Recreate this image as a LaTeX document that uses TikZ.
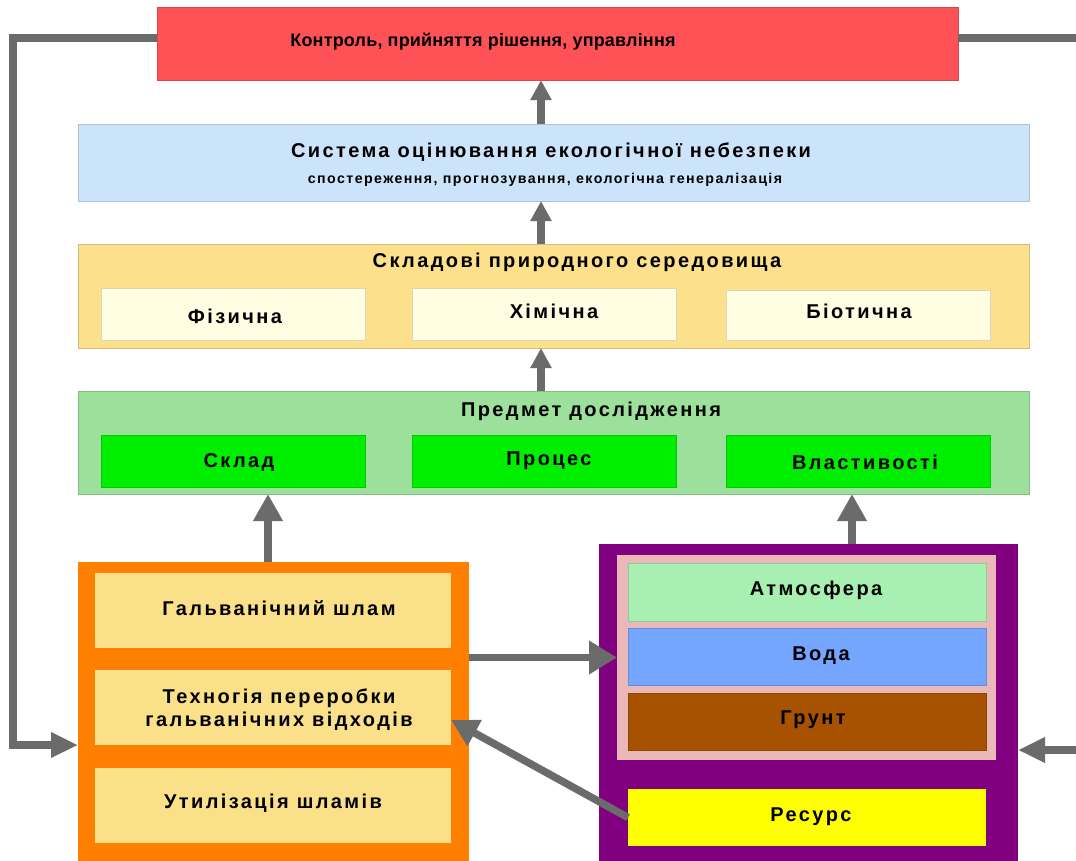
\documentclass[tikz,border=0pt]{standalone}
\usepackage{fontspec}
\setmainfont{Liberation Sans}
\newfontfamily\spaced{Liberation Sans}[LetterSpace=12]
\newfontfamily\spacedsmall{Liberation Sans}[LetterSpace=10]
\newfontfamily\spacedtop{Liberation Sans}[LetterSpace=1]
\usetikzlibrary{arrows.meta}
\definecolor{cred}{HTML}{FF5257}
\definecolor{cblue}{HTML}{CCE4FA}
\definecolor{cyel}{HTML}{FCE08C}
\definecolor{cyellight}{HTML}{FFFDE2}
\definecolor{cgreen}{HTML}{9DE09B}
\definecolor{cgreenb}{HTML}{00EE00}
\definecolor{corange}{HTML}{FF8000}
\definecolor{corin}{HTML}{FBE08A}
\definecolor{cpurple}{HTML}{800080}
\definecolor{cpink}{HTML}{EBB8B9}
\definecolor{catm}{HTML}{A8F0B2}
\definecolor{cwater}{HTML}{74A5FF}
\definecolor{csoil}{HTML}{A65200}
\definecolor{cres}{HTML}{FFFF00}
\definecolor{carr}{HTML}{6B6B6B}
\tikzset{
  box/.style={rectangle, inner sep=0pt, outer sep=0pt, draw=#1!85!black, line width=0.6pt, fill=#1},
  lbl/.style={inner sep=0pt, font=\spaced\bfseries\fontsize{20}{22}\selectfont, align=center},
  toplbl/.style={inner sep=0pt, font=\spacedtop\bfseries\fontsize{18}{21}\selectfont},
  sublbl/.style={inner sep=0pt, font=\spacedsmall\bfseries\fontsize{14.2}{16}\selectfont},
  arrS/.style={draw=carr, line width=8pt, -{Triangle[width=20pt,length=20pt]}},
  arrL/.style={draw=carr, line width=7.5pt, -{Triangle[width=28pt,length=27pt]}},
  arrM/.style={draw=carr, line width=7.5pt, -{Triangle[width=24pt,length=27pt]}},
  arrW/.style={draw=carr, line width=7pt, -{Triangle[width=32pt,length=28pt]}},
  lineG/.style={draw=carr, line width=7.5pt},
}
\begin{document}
\begin{tikzpicture}[x=1pt,y=-1pt]
\clip (0,0) rectangle (1076,860);
\fill[white] (0,0) rectangle (1076,860);
% top
\node[box=cred, minimum width=801pt, minimum height=73pt] (red) at (557.5,43.5) {};
\node[toplbl] (redt) at (483,42) {Контроль, прийняття рішення, управління};
% blue
\node[box=cblue, minimum width=951pt, minimum height=77pt] (blue) at (553.5,162.5) {};
\node[lbl] (bluet) at (551,152) {Система оцінювання екологічної небезпеки};
\node[sublbl] (blues) at (545,180) {спостереження, прогнозування, екологічна генералізація};
% yellow
\node[box=cyel, minimum width=951pt, minimum height=104pt] (yel) at (553.5,296) {};
\node[lbl] (yelt) at (577,262) {Складові природного середовища};
\node[box=cyellight, minimum width=264pt, minimum height=52pt] (fiz) at (233,314) {};
\node[lbl] (fizt) at (235,316) {Фізична};
\node[box=cyellight, minimum width=264pt, minimum height=52pt] (him) at (544,314) {};
\node[lbl] (himt) at (554,311) {Хімічна};
\node[box=cyellight, minimum width=264pt, minimum height=50pt] (bio) at (858,315) {};
\node[lbl] (biot) at (859,311) {Біотична};
% green
\node[box=cgreen, minimum width=951pt, minimum height=103pt] (grn) at (553.5,442.5) {};
\node[lbl] (grnt) at (591,411) {Предмет дослідження};
\node[box=cgreenb, minimum width=264pt, minimum height=52pt] (skl) at (233,461) {};
\node[lbl] (sklt) at (239,463) {Склад};
\node[box=cgreenb, minimum width=264pt, minimum height=52pt] (pro) at (544,461) {};
\node[lbl] (prot) at (549,461) {Процес};
\node[box=cgreenb, minimum width=264pt, minimum height=52pt] (vla) at (858,461) {};
\node[lbl] (vlat) at (865,462) {Властивості};
% orange
\node[box=corange, draw=none, minimum width=391pt, minimum height=303pt] (org) at (273.5,713.5) {};
\node[box=corin, draw=none, minimum width=356pt, minimum height=75pt] (gs) at (273,610.5) {};
\node[lbl] (gst) at (279,608) {Гальванічний шлам};
\node[box=corin, draw=none, minimum width=356pt, minimum height=75pt] (tech) at (273,707.5) {};
\node[lbl] (techt) at (279,710) {Техногія переробки\\[1pt]гальванічних відходів};
\node[box=corin, draw=none, minimum width=356pt, minimum height=75pt] (util) at (273,805.5) {};
\node[lbl] (utilt) at (273,803) {Утилізація шламів};
% purple
\node[box=cpurple, draw=none, minimum width=419pt, minimum height=321pt] (pur) at (808.5,704.5) {};
\node[box=cpink, draw=none, minimum width=379pt, minimum height=205pt] (pink) at (806.5,657.5) {};
\node[box=catm, minimum width=358pt, minimum height=58pt] (atm) at (807,592) {};
\node[lbl] (atmt) at (816,590) {Атмосфера};
\node[box=cwater, minimum width=358pt, minimum height=57pt] (wat) at (807,656.5) {};
\node[lbl] (watt) at (821,656) {Вода};
\node[box=csoil, minimum width=358pt, minimum height=57pt] (soil) at (807,721.5) {};
\node[lbl] (soilt) at (813,720) {Грунт};
\node[box=cres, draw=none, minimum width=358pt, minimum height=57pt] (res) at (807,817.5) {};
\node[lbl] (rest) at (811,817) {Ресурс};
% connectors
\draw[arrS] ([xshift=-12.5pt]blue.north) -- ([xshift=-12.5pt]blue.north |- red.south);
\draw[arrS] ([xshift=-12.5pt]yel.north) -- ([xshift=-12.5pt]yel.north |- blue.south);
\draw[arrS] ([xshift=-12.5pt]grn.north) -- ([xshift=-12.5pt]grn.north |- yel.south);
\draw[arrL] ([xshift=-5.5pt]org.north) -- ([xshift=-5.5pt]org.north |- grn.south);
\draw[arrL] ([xshift=43.5pt]pur.north) -- ([xshift=43.5pt]pur.north |- grn.south);
\draw[arrW] (org.east |- pink.west) -- (pink.west);
\draw[arrL] (res.west) -- ([yshift=-12.5pt]tech.east);
\coordinate (L) at (13,745);
\draw[arrM] ([yshift=5.5pt]red.west) -| (L) -- (org.west |- L);
\coordinate (R1) at (1085,38);
\coordinate (R2) at (1085,750);
\draw[lineG] ([yshift=5.5pt]red.east) -- (R1);
\draw[arrM] (R2) -- (pur.east |- R2);
\end{tikzpicture}
\end{document}
